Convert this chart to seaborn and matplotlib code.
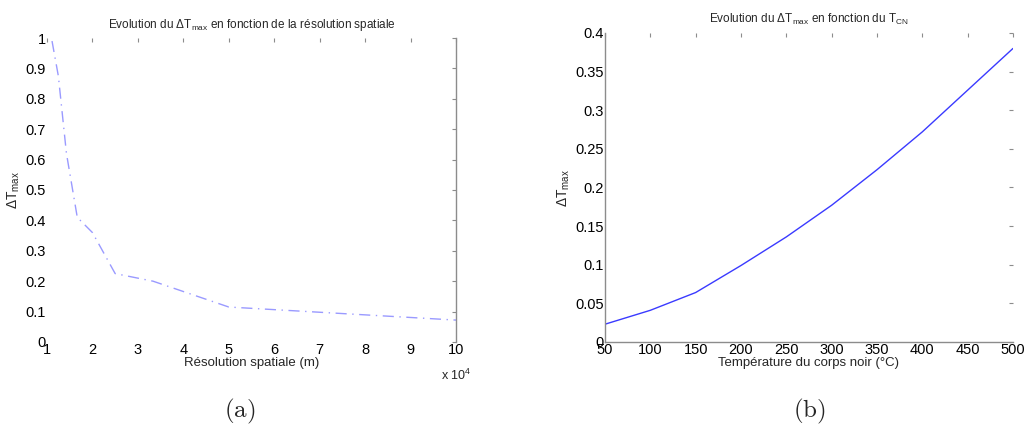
import matplotlib
matplotlib.use("Agg")
import matplotlib.pyplot as plt
import seaborn as sns
import pandas as pd
from matplotlib.ticker import FuncFormatter, MultipleLocator

# --- DATA ---
# (a) spatial resolution (m) vs delta T max
resolution_m = [11111, 12500, 14286, 16667, 20000, 25000, 33333, 50000, 100000]
dtmax_res = [0.99, 0.875, 0.62, 0.41, 0.36, 0.225, 0.20, 0.115, 0.072]

# (b) black body temperature (degC) vs delta T max
t_cn = [50, 100, 150, 200, 250, 300, 350, 400, 450, 500]
dtmax_tcn = [0.023, 0.041, 0.064, 0.099, 0.136, 0.177, 0.223, 0.272, 0.326, 0.38]

sns.set_theme(style="white")
plt.rcParams['font.family'] = ['Liberation Sans', 'DejaVu Sans']
plt.rcParams['mathtext.default'] = 'regular'

GRAY = "#8c8c8c"
fmt = FuncFormatter(lambda v, p: f"{v:g}")

fig = plt.figure(figsize=(10.28, 4.30), dpi=100)
ax1 = fig.add_axes([0.0457, 0.2047, 0.3979, 0.7069])
ax2 = fig.add_axes([0.5885, 0.2047, 0.3969, 0.7186])


def matlab_style(ax, visible):
    for side in ["left", "right", "top", "bottom"]:
        ax.spines[side].set_visible(side in visible)
        ax.spines[side].set_color(GRAY)
        ax.spines[side].set_linewidth(1.0)
    ax.tick_params(direction="in", length=3, width=0.8, color=GRAY,
                   top=True, right=True, labelsize=10.5, pad=1,
                   labelcolor="black")
    ax.yaxis.set_major_formatter(fmt)
    ax.xaxis.set_major_formatter(fmt)


# --- (a) ---
df_a = pd.DataFrame({"res": [r / 1e4 for r in resolution_m], "dt": dtmax_res})
sns.lineplot(data=df_a, x="res", y="dt", ax=ax1, color="#9a9aff",
             linewidth=1.0, linestyle=(0, (8, 4, 1, 4)), sort=False)
ax1.set_xlim(1, 10)
ax1.set_ylim(0, 1)
ax1.xaxis.set_major_locator(MultipleLocator(1))
ax1.yaxis.set_major_locator(MultipleLocator(0.1))
matlab_style(ax1, ["right"])
ax1.set_xlabel("Résolution spatiale (m)", fontsize=9.5, labelpad=0)
ax1.set_ylabel(r"$\Delta$T$_{max}$", fontsize=10, labelpad=2)
ax1.set_title(r"Evolution du $\Delta$T$_{max}$ en fonction de la résolution spatiale",
              fontsize=8.5, pad=7)
ax1.text(1.0, -0.085, r"x 10$^4$", transform=ax1.transAxes, fontsize=9,
         ha="center", va="top")

# --- (b) ---
df_b = pd.DataFrame({"t": t_cn, "dt": dtmax_tcn})
sns.lineplot(data=df_b, x="t", y="dt", ax=ax2, color="#3a3aff", linewidth=1.0)
ax2.set_xlim(50, 500)
ax2.set_ylim(0, 0.4)
ax2.xaxis.set_major_locator(MultipleLocator(50))
ax2.yaxis.set_major_locator(MultipleLocator(0.05))
matlab_style(ax2, ["left", "bottom"])
ax2.set_xlabel("Température du corps noir (°C)", fontsize=9.5, labelpad=0)
ax2.set_ylabel(r"$\Delta$T$_{max}$", fontsize=10, labelpad=2)
ax2.set_title(r"Evolution du $\Delta$T$_{max}$ en fonction du T$_{CN}$",
              fontsize=8.5, pad=7)

# captions
fig.text(0.2335, 0.03, r"$\mathrm{(a)}$", fontsize=18, math_fontfamily="cm", ha="center")
fig.text(0.7875, 0.03, r"$\mathrm{(b)}$", fontsize=18, math_fontfamily="cm", ha="center")

fig.savefig("out.png", dpi=100)
